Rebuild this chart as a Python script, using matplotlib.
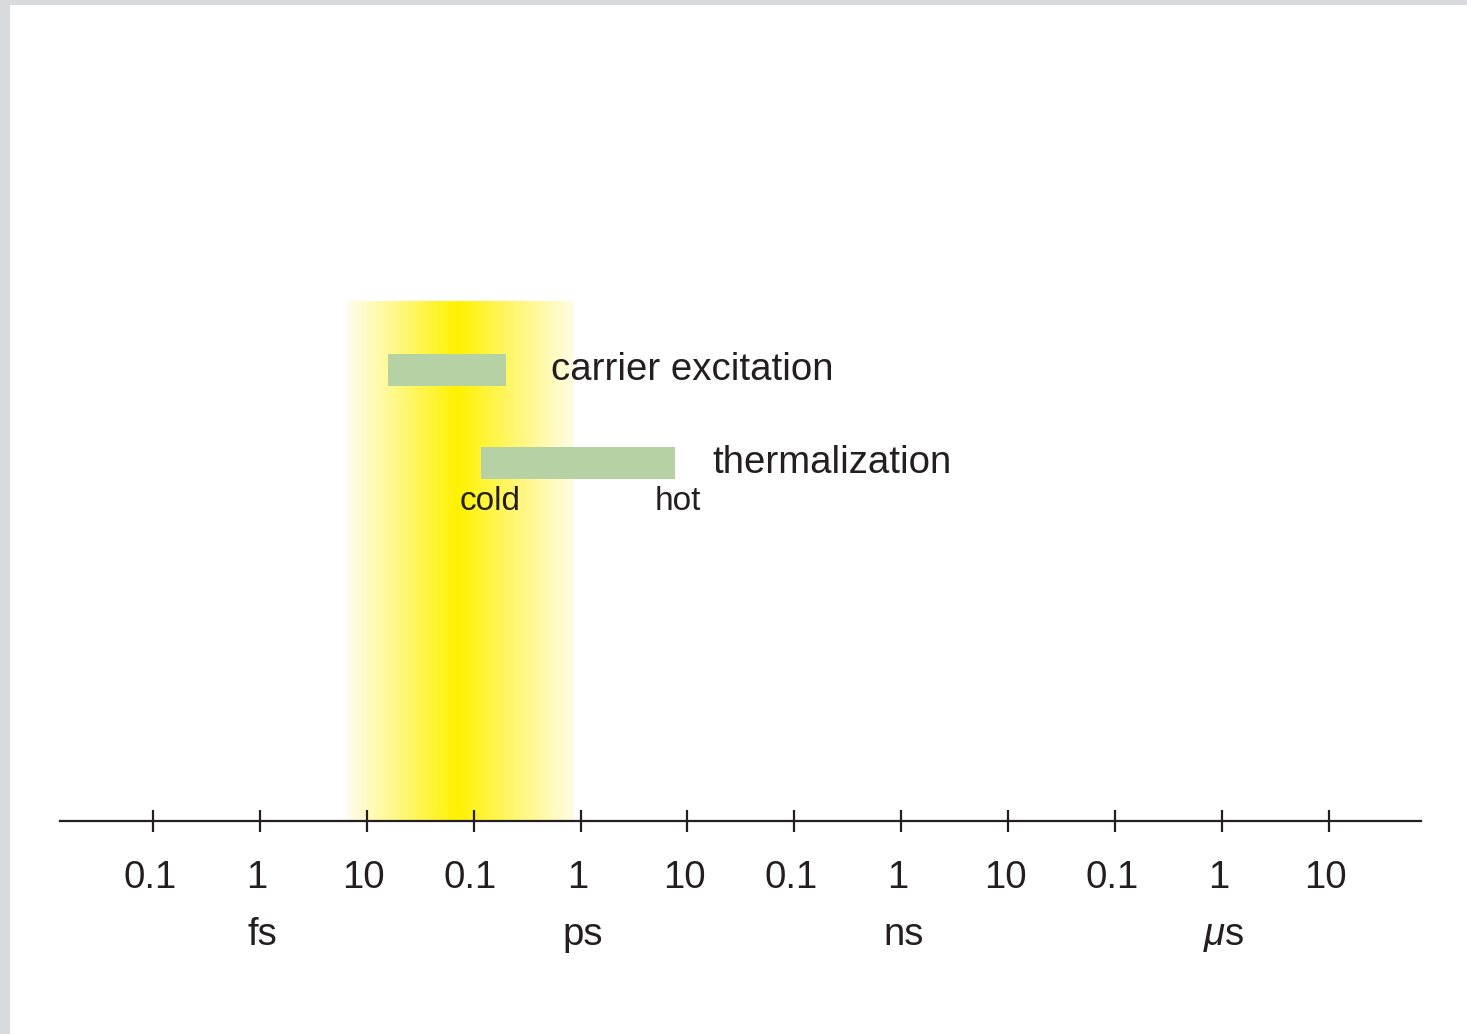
import numpy as np
import matplotlib.pyplot as plt
from matplotlib.colors import LinearSegmentedColormap

plt.rcParams['font.family'] = ['Liberation Sans', 'DejaVu Sans']
plt.rcParams['mathtext.fontset'] = 'custom'
plt.rcParams['mathtext.it'] = 'Liberation Sans:italic'
plt.rcParams['mathtext.rm'] = 'Liberation Sans'

# time axis, log10(seconds)
tick_exp = [-16, -15, -14, -13, -12, -11, -10, -9, -8, -7, -6, -5]
tick_labels = ['0.1', '1', '10', '0.1', '1', '10', '0.1', '1', '10', '0.1', '1', '10']
unit_exp = [-15, -12, -9, -6]
unit_labels = ['fs', 'ps', 'ns', r'$\mu$s']

# processes (log10 of start / end time)
processes = ['carrier excitation', 'thermalization']
proc_start = [-13.80, -12.93]
proc_end = [-12.70, -11.12]

# laser pulse band (log10 s)
pulse_start = -14.19
pulse_peak = -13.15
pulse_end = -12.06

txt = '#231f20'
green = '#b6d2a4'

fig = plt.figure(figsize=(14.67, 10.34), dpi=100, facecolor='#d9dadb')
ax = fig.add_axes([10 / 1467, 0, 1457 / 1467, 1029 / 1034])
ax.set_facecolor('white')
for s in ax.spines.values():
    s.set_visible(False)
ax.set_xticks([])
ax.set_yticks([])
# x in decades, y in pixel-like units from the top
ax.set_xlim(-16 + (10 - 153) / 106.9, -16 + (1467 - 153) / 106.9)
ax.set_ylim(1034, 5)

# yellow pulse gradient
frac = (pulse_peak - pulse_start) / (pulse_end - pulse_start)
cmap = LinearSegmentedColormap.from_list(
    'pulse', [(0, '#fffdf0'), (frac, '#fff200'), (1, '#fffce6')])
ax.imshow(np.linspace(0, 1, 512)[None, :], cmap=cmap, aspect='auto',
          interpolation='bilinear', extent=[pulse_start, pulse_end, 821, 301], zorder=0)

# process bars
rows = [370, 463]
ax.barh(rows, np.array(proc_end) - np.array(proc_start), left=proc_start,
        height=32, color=green, zorder=2)
label_gap = [0.42, 0.35]
for name, e, y, g in zip(processes, proc_end, rows, label_gap):
    ax.text(e + g, y, name, fontsize=27.6, color=txt, va='center', ha='left')

ax.text(proc_start[1] + 0.08, 502, 'cold', fontsize=24, color=txt, ha='center', va='center')
ax.text(proc_end[1] + 0.03, 502, 'hot', fontsize=24, color=txt, ha='center', va='center')

# time axis
ax.plot([-16.87, -4.14], [821, 821], color=txt, lw=1.6, zorder=3)
ax.vlines(tick_exp, 810, 832, color=txt, lw=1.6, zorder=3)
for x, lab in zip(tick_exp, tick_labels):
    ax.text(x - 0.03, 888, lab, fontsize=27.6, color=txt, ha='center', va='baseline')
for x, lab in zip(unit_exp, unit_labels):
    ax.text(x + 0.02, 945, lab, fontsize=27.6, color=txt, ha='center', va='baseline')

fig.savefig('out.png', dpi=100, facecolor=fig.get_facecolor())
